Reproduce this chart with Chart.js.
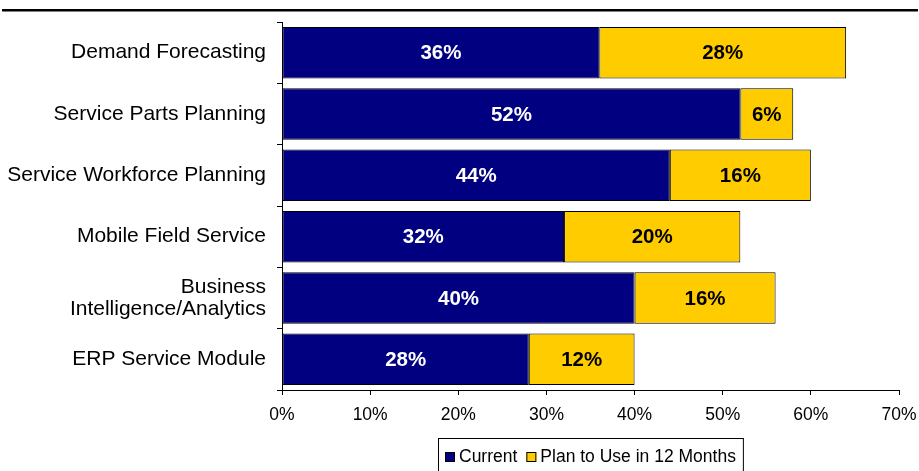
<!DOCTYPE html>
<html>
<head>
<meta charset="utf-8">
<script src="https://cdn.jsdelivr.net/npm/chart.js@4.4.1/dist/chart.umd.min.js"></script>
<style>
  html, body { margin: 0; padding: 0; background: #fff; }
  #wrap { width: 919px; height: 471px; position: relative; }
</style>
</head>
<body>
<div id="wrap"><canvas id="c" width="919" height="471"></canvas></div>
<script>
// Applications in use today vs. planned within the next year
const categories = [
  'Demand Forecasting',
  'Service Parts Planning',
  'Service Workforce Planning',
  'Mobile Field Service',
  ['Business', 'Intelligence/Analytics'],
  'ERP Service Module'
];
const currentValues = [36, 52, 44, 32, 40, 28];
const planValues = [28, 6, 16, 20, 16, 12];
const xTicks = [0, 10, 20, 30, 40, 50, 60, 70];
const seriesNames = ['Current', 'Plan to Use in 12 Months'];
const seriesColors = ['#000080', '#FFCC00'];

const FONT = "'Liberation Sans', Arial, sans-serif";

// Heavy rule across the top of the figure
const topRule = {
  id: 'topRule',
  afterDraw(chart) {
    const ctx = chart.ctx;
    ctx.save();
    ctx.fillStyle = '#000';
    ctx.fillRect(2, 9, 916, 2.5);
    ctx.restore();
  }
};

// Value labels centred inside each bar segment
const segmentLabels = {
  id: 'segmentLabels',
  afterDatasetsDraw(chart) {
    const ctx = chart.ctx;
    ctx.save();
    ctx.font = "bold 20.5px " + FONT;
    ctx.textAlign = 'center';
    ctx.textBaseline = 'middle';
    chart.data.datasets.forEach((ds, di) => {
      const meta = chart.getDatasetMeta(di);
      meta.data.forEach((bar, i) => {
        const v = ds.data[i];
        const cx = (bar.x + bar.base) / 2;
        ctx.fillStyle = di === 0 ? '#fff' : '#000';
        ctx.fillText(v + '%', cx, bar.y + 1);
      });
    });
    ctx.restore();
  }
};

// Boxed legend centred under the plot area
const boxedLegend = {
  id: 'boxedLegend',
  afterDraw(chart) {
    const ctx = chart.ctx;
    const area = chart.chartArea;
    ctx.save();
    ctx.font = "17.5px " + FONT;
    ctx.textBaseline = 'middle';
    const sq = 10, gapText = 4, gapItem = 9, padX = 7;
    const widths = seriesNames.map(t => ctx.measureText(t).width);
    let total = padX * 2 - gapItem;
    widths.forEach(w => { total += sq + gapText + w + gapItem; });
    const left = Math.round((area.left + area.right) / 2 - total / 2);
    const top = 438;
    ctx.strokeStyle = '#000';
    ctx.lineWidth = 1;
    ctx.strokeRect(left + 0.5, top + 0.5, total, 40);
    let x = left + padX;
    const cy = 457;
    seriesNames.forEach((t, i) => {
      ctx.fillStyle = seriesColors[i];
      ctx.fillRect(x, cy - 5, sq, sq);
      ctx.strokeStyle = '#000';
      ctx.strokeRect(x + 0.5, cy - 4.5, sq - 1, sq - 1);
      x += sq + gapText;
      ctx.fillStyle = '#000';
      ctx.fillText(t, x, cy);
      x += widths[i] + gapItem;
    });
    ctx.restore();
  }
};

new Chart(document.getElementById('c'), {
  type: 'bar',
  data: {
    labels: categories,
    datasets: [
      {
        label: seriesNames[0],
        data: currentValues,
        backgroundColor: seriesColors[0],
        borderColor: '#000',
        borderWidth: 1,
        borderSkipped: false
      },
      {
        label: seriesNames[1],
        data: planValues,
        backgroundColor: seriesColors[1],
        borderColor: '#000',
        borderWidth: 1,
        borderSkipped: false
      }
    ]
  },
  options: {
    indexAxis: 'y',
    responsive: false,
    animation: false,
    devicePixelRatio: 1,
    layout: { autoPadding: false, padding: { top: 22, right: 20, left: 0, bottom: 0 } },
    datasets: { bar: { categoryPercentage: 1, barPercentage: 0.84 } },
    scales: {
      x: {
        stacked: true,
        min: 0,
        max: 70,
        afterBuildTicks(axis) {
          axis.ticks = xTicks.map(v => ({ value: v }));
        },
        afterFit(axis) {
          axis.height = 81;
          axis.paddingRight = 20;
          axis.paddingLeft = 0;
        },
        grid: {
          display: true,
          drawOnChartArea: false,
          drawTicks: true,
          tickLength: 5,
          color: '#000',
          lineWidth: 1
        },
        border: { display: true, color: '#000', width: 1 },
        ticks: {
          color: '#000',
          font: { family: FONT, size: 17.5 },
          padding: 10,
          maxRotation: 0,
          callback: v => v + '%'
        }
      },
      y: {
        stacked: true,
        afterFit(axis) { axis.width = 282; },
        grid: {
          display: true,
          offset: true,
          drawOnChartArea: false,
          drawTicks: true,
          tickLength: 5,
          color: '#000',
          lineWidth: 1
        },
        border: { display: true, color: '#000', width: 1 },
        ticks: {
          color: '#000',
          font: { family: FONT, size: 21, lineHeight: 1.05 },
          padding: 11,
          autoSkip: false
        }
      }
    },
    plugins: {
      legend: { display: false },
      tooltip: { enabled: false },
      title: { display: false }
    }
  },
  plugins: [topRule, segmentLabels, boxedLegend]
});
</script>
</body>
</html>
